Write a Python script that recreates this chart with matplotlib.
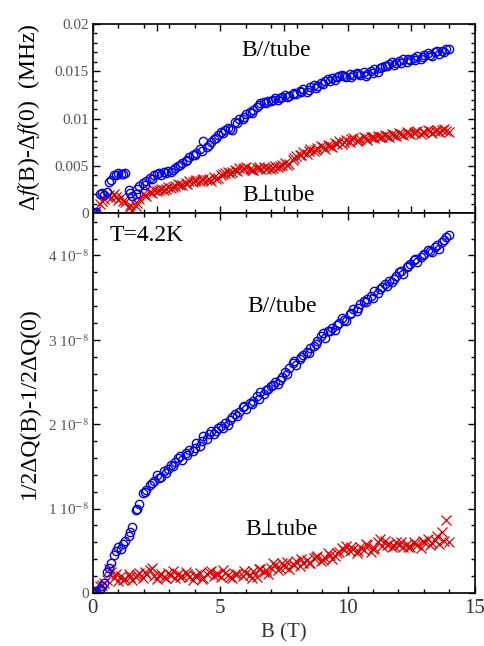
import matplotlib
matplotlib.use('Agg')
import matplotlib.pyplot as plt
from matplotlib.ticker import MultipleLocator

plt.rcParams['font.family'] = ['Liberation Serif', 'STIXGeneral', 'DejaVu Serif']
plt.rcParams['mathtext.fontset'] = 'stix'

# champ magnetique (T), premier balayage
B = [0.00, 0.14, 0.28, 0.42, 0.56, 0.70, 0.84, 0.98, 1.12, 1.26, 1.40, 1.54, 1.68, 1.82, 1.96,
     2.10, 2.24, 2.38, 2.52, 2.66, 2.80, 2.94, 3.08, 3.22, 3.36, 3.50, 3.64, 3.78, 3.92, 4.06,
     4.20, 4.34, 4.48, 4.62, 4.76, 4.90, 5.04, 5.18, 5.32, 5.46, 5.60, 5.74, 5.88, 6.02, 6.16,
     6.30, 6.44, 6.58, 6.72, 6.86, 7.00, 7.14, 7.28, 7.42, 7.56, 7.70, 7.84, 7.98, 8.12, 8.26,
     8.40, 8.54, 8.68, 8.82, 8.96, 9.10, 9.24, 9.38, 9.52, 9.66, 9.80, 9.94, 10.08, 10.22, 10.36,
     10.50, 10.64, 10.78, 10.92, 11.06, 11.20, 11.34, 11.48, 11.62, 11.76, 11.90, 12.04, 12.18,
     12.32, 12.46, 12.60, 12.74, 12.88, 13.02, 13.16, 13.30, 13.44, 13.58, 13.72, 13.86, 14.00]

# second balayage
B2 = [0.07, 0.35, 0.63, 0.91, 1.19, 1.47, 1.75, 2.03, 2.31, 2.59, 2.87, 3.15, 3.43, 3.71, 3.99,
      4.27, 4.55, 4.83, 5.11, 5.39, 5.67, 5.95, 6.23, 6.51, 6.79, 7.07, 7.35, 7.63, 7.91, 8.19,
      8.47, 8.75, 9.03, 9.31, 9.59, 9.87, 10.15, 10.43, 10.71, 10.99, 11.27, 11.55, 11.83, 12.11,
      12.39, 12.67, 12.95, 13.23, 13.51, 13.79]

# delta f (unites de 1e-3 MHz)
df_par = [0.0, 0.1, 2.0, 1.9, 2.2, 3.5, 4.0, 4.2, 4.1, 4.2, 2.5, 1.8, 2.0, 2.9, 3.2,
          3.4, 3.7, 4.0, 4.1, 4.0, 4.3, 4.5, 4.4, 4.8, 5.0, 5.3, 5.5, 5.9, 6.1, 6.4,
          6.8, 7.6, 7.0, 7.5, 7.8, 8.3, 8.6, 8.8, 9.0, 8.8, 9.6, 9.9, 10.0, 10.5, 10.7,
          10.9, 11.2, 11.6, 11.8, 11.9, 11.9, 12.2, 12.0, 12.3, 12.5, 12.4, 12.6, 12.6, 12.9, 13.1,
          12.8, 13.3, 13.5, 13.4, 13.8, 14.0, 14.2, 14.3, 14.1, 14.5, 14.6, 14.4, 14.7, 14.6, 14.8,
          14.6, 14.9, 14.7, 15.0, 15.2, 14.9, 15.4, 15.6, 15.8, 16.0, 15.9, 16.1, 16.3,
          16.0, 16.2, 16.4, 16.6, 16.3, 16.7, 16.9, 16.6, 17.0, 16.8, 17.1, 17.3, 17.4]
df_par2 = [0.0, 2.1, 3.3, 4.0, 4.1, 2.1, 2.6, 3.0, 3.6, 4.2, 4.2, 4.6, 5.1, 5.6, 6.2,
           6.6, 7.2, 7.9, 8.5, 8.9, 9.5, 10.2, 10.6, 11.4, 11.6, 12.0, 12.2, 12.3, 12.7, 12.8,
           13.0, 13.2, 13.7, 14.0, 14.4, 14.5, 14.4, 14.7, 14.5, 14.8, 15.3, 15.5, 15.7, 15.9,
           16.3, 16.2, 16.5, 16.7, 17.1, 17.0]
df_perp = [0.0, 0.2, 1.0, 1.5, 1.8, 1.6, 2.0, 1.4, 1.7, 1.2, 0.6, 0.3, 0.8, 1.5, 2.0,
           1.8, 2.2, 2.4, 2.3, 2.6, 2.5, 2.8, 2.7, 2.9, 3.1, 3.0, 3.2, 3.4, 3.3, 3.5,
           3.4, 3.6, 3.5, 3.4, 3.8, 3.7, 4.0, 4.2, 4.4, 4.3, 4.6, 4.8, 4.7, 4.9, 4.7,
           4.6, 4.8, 4.7, 4.9, 4.8, 4.7, 5.0, 4.9, 5.1, 5.3, 5.2, 5.6, 6.0, 6.2, 6.5,
           6.3, 6.8, 6.6, 6.9, 7.1, 6.8, 7.2, 7.0, 7.4, 7.6, 7.3, 7.7, 7.5, 7.9, 7.6,
           7.8, 8.0, 7.7, 8.1, 7.9, 8.2, 8.0, 8.3, 8.1, 8.4, 8.2, 8.5, 8.3,
           8.6, 8.4, 8.5, 8.7, 8.4, 8.6, 8.8, 8.5, 8.7, 8.6, 8.8, 8.7, 8.6]
df_perp2 = [0.1, 1.3, 1.9, 1.7, 1.3, 0.9, 1.1, 1.9, 2.1, 2.5, 2.6, 2.8, 3.0, 3.1, 3.4,
            3.5, 3.6, 3.6, 4.1, 4.2, 4.5, 4.8, 4.6, 4.9, 4.7, 4.8, 5.0, 5.1, 5.8, 6.1,
            6.6, 6.7, 7.0, 7.1, 7.3, 7.5, 7.8, 7.7, 7.9, 8.0, 8.1, 8.2, 8.3, 8.4,
            8.5, 8.6, 8.6, 8.7, 8.8, 8.9]

# 1/2 delta Q (unites de 1e-8)
dq_par = [0.00, 0.02, 0.05, 0.12, 0.25, 0.36, 0.45, 0.55, 0.52, 0.62, 0.68, 0.78, 0.98, 1.05, 1.18,
          1.22, 1.28, 1.33, 1.40, 1.38, 1.45, 1.47, 1.52, 1.55, 1.60, 1.58, 1.66, 1.70, 1.68, 1.78,
          1.74, 1.86, 1.82, 1.92, 1.88, 1.95, 1.98, 2.02, 1.99, 2.08, 2.12, 2.15, 2.20, 2.18, 2.25,
          2.28, 2.33, 2.38, 2.36, 2.42, 2.45, 2.50, 2.48, 2.56, 2.62, 2.66, 2.72, 2.70, 2.77, 2.82,
          2.86, 2.90, 2.93, 2.98, 3.05, 3.02, 3.10, 3.14, 3.12, 3.20, 3.26, 3.22, 3.30, 3.36, 3.34,
          3.42, 3.46, 3.48, 3.52, 3.58, 3.55, 3.62, 3.66, 3.70, 3.68, 3.76, 3.80, 3.78,
          3.86, 3.90, 3.94, 3.92, 3.98, 4.02, 4.06, 4.04, 4.10, 4.08, 4.16, 4.22, 4.24]
dq_par2 = [0.00, 0.08, 0.30, 0.50, 0.58, 0.72, 1.00, 1.20, 1.30, 1.36, 1.42, 1.50, 1.62, 1.64, 1.72,
           1.80, 1.88, 1.92, 1.96, 2.05, 2.10, 2.22, 2.24, 2.30, 2.40, 2.46, 2.52, 2.60, 2.75, 2.80,
           2.84, 2.95, 3.08, 3.10, 3.18, 3.24, 3.32, 3.38, 3.45, 3.50, 3.60, 3.64, 3.72, 3.82,
           3.88, 3.96, 4.00, 4.05, 4.12, 4.18]
dq_perp = [0.00, 0.05, 0.08, 0.12, 0.15, 0.25, 0.18, 0.14, 0.20, 0.17, 0.22, 0.16, 0.19, 0.24, 0.18,
           0.22, 0.27, 0.20, 0.17, 0.23, 0.19, 0.24, 0.21, 0.18, 0.22, 0.20, 0.25, 0.19, 0.15, 0.21,
           0.24, 0.18, 0.22, 0.26, 0.20, 0.23, 0.19, 0.24, 0.21, 0.18, 0.22, -0.05, 0.20, 0.24, 0.21,
           0.26, 0.19, 0.28, 0.25, 0.22, 0.30, 0.33, 0.27, 0.36, 0.31, 0.28, 0.34, 0.38, 0.32, 0.36,
           0.39, 0.35, 0.41, 0.44, 0.38, 0.42, 0.47, 0.40, 0.44, 0.49, 0.53, 0.56, 0.50, 0.52, 0.48,
           0.54, 0.51, 0.57, 0.49, 0.53, 0.60, 0.56, 0.62, 0.58, 0.55, 0.60, 0.57, 0.54,
           0.58, 0.55, 0.61, 0.57, 0.53, 0.60, 0.64, 0.59, 0.63, 0.58, 0.72, 0.86, 0.60]
dq_perp2 = [0.02, 0.10, 0.28, 0.22, 0.16, 0.19, 0.21, 0.25, 0.30, 0.21, 0.18, 0.26, 0.19, 0.23, 0.20,
            0.17, 0.25, 0.22, 0.27, 0.19, 0.23, 0.26, 0.18, 0.29, 0.27, 0.35, 0.30, 0.37, 0.33, 0.40,
            0.36, 0.43, 0.39, 0.45, 0.48, 0.51, 0.55, 0.50, 0.58, 0.52, 0.64, 0.57, 0.56, 0.61,
            0.55, 0.58, 0.62, 0.57, 0.68, 0.62]

top_yticks = [0, 0.005, 0.01, 0.015, 0.02]
top_ylabels = ['0', '0.005', '0.01', '0.015', '0.02']
bot_yticks = [0, 1, 2, 3, 4]
bot_ylabels = ['0', r'1 10$^{-8}$', r'2 10$^{-8}$', r'3 10$^{-8}$', r'4 10$^{-8}$']

BLEU = '#0000ee'
ROUGE = '#dd0000'

fig = plt.figure(figsize=(4.84, 6.46), dpi=100)
ax1 = fig.add_axes([0.192, 0.670, 0.789, 0.293])
ax2 = fig.add_axes([0.192, 0.082, 0.789, 0.588])

# panneau du haut : delta f
for bb, yy in ((B, df_perp), (B2, df_perp2)):
    ax1.plot(bb, [v * 1e-3 for v in yy], 'x', color=ROUGE, ms=6.5, mew=0.9)
for bb, yy in ((B, df_par), (B2, df_par2)):
    ax1.plot(bb, [v * 1e-3 for v in yy], 'o', mfc='none', mec=BLEU, ms=6, mew=1.0)
ax1.set_xlim(0, 15)
ax1.set_ylim(0, 0.02)
ax1.set_yticks(top_yticks)
ax1.set_yticklabels(top_ylabels)
ax1.yaxis.set_minor_locator(MultipleLocator(0.001))
ax1.set_xticklabels([])
ax1.text(7.2, 0.0172, 'B//tube', fontsize=17, ha='center', va='center')
ax1.text(7.3, 0.0019, 'B\u22a5tube', fontsize=17, ha='center', va='center')

# panneau du bas : 1/2 delta Q
for bb, yy in ((B, dq_perp), (B2, dq_perp2)):
    ax2.plot(bb, yy, 'x', color=ROUGE, ms=6.5, mew=0.9)
for bb, yy in ((B, dq_par), (B2, dq_par2)):
    ax2.plot(bb, yy, 'o', mfc='none', mec=BLEU, ms=6, mew=1.0)
ax2.set_xlim(0, 15)
ax2.set_ylim(0, 4.5)
ax2.set_yticks(bot_yticks)
ax2.set_yticklabels(bot_ylabels)
ax2.yaxis.set_minor_locator(MultipleLocator(0.2))
ax2.set_xticks([0, 5, 10, 15])
ax2.text(0.67, 4.24, 'T=4.2K', fontsize=17, ha='left', va='center')
ax2.text(7.43, 3.40, 'B//tube', fontsize=17, ha='center', va='center')
ax2.text(7.43, 0.75, 'B\u22a5tube', fontsize=17, ha='center', va='center')
ax2.set_xlabel('B (T)', fontsize=15, color='#333333', labelpad=4)

for ax in (ax1, ax2):
    ax.xaxis.set_minor_locator(MultipleLocator(1))
    ax.tick_params(which='both', direction='in', top=True, right=True, width=1.0)
    ax.tick_params(which='major', length=5)
    ax.tick_params(which='minor', length=3)
    ax.tick_params(axis='y', labelsize=11, labelcolor='#555555', pad=3)
    ax.tick_params(axis='x', labelsize=15, labelcolor='#333333', pad=4)
    for s in ax.spines.values():
        s.set_linewidth(1.2)

fig.text(0.060, 0.818, r'Δ$f$(B)-Δ$f$(0)  (MHz)', rotation=90, fontsize=17,
         ha='center', va='center')
fig.text(0.060, 0.376, '1/2ΔQ(B)-1/2ΔQ(0)', rotation=90, fontsize=17,
         ha='center', va='center')

fig.savefig('out.png', dpi=100)
